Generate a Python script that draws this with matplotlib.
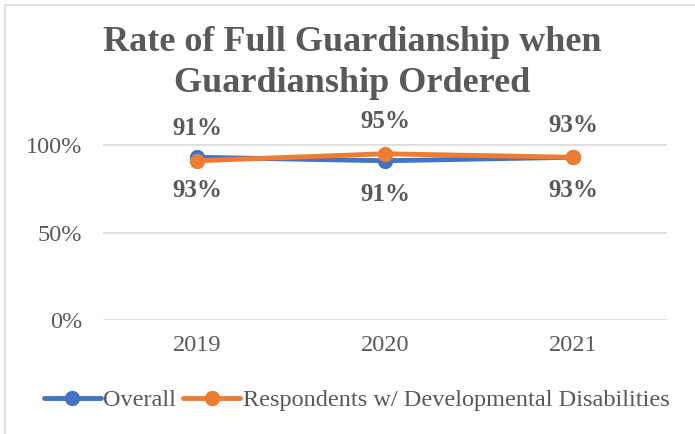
import matplotlib.pyplot as plt
from matplotlib.patches import Rectangle

# data
years = ['2019', '2020', '2021']
overall = [0.93, 0.91, 0.93]
dev_dis = [0.91, 0.95, 0.93]
y_ticks = [0, 0.5, 1.0]
y_tick_labels = ['0%', '50%', '100%']

blue = '#4472C4'
orange = '#ED7D31'
grey_txt = '#595959'

plt.rcParams['font.family'] = ['Liberation Serif', 'DejaVu Serif']

fig = plt.figure(figsize=(6.95, 4.34), dpi=100)
ax = fig.add_axes([0.148, 0.2627, 0.812, 0.4838])

# rahmen chart
fig.patches.append(Rectangle((5 / 695, -0.05), 1.1, 1 - 5 / 434 + 0.05,
                             transform=fig.transFigure, fill=False,
                             edgecolor='#D9D9D9', linewidth=1.2))

x = range(len(years))
ax.plot(x, overall, color=blue, linewidth=3.5, marker='o', markersize=10,
        label='Overall', solid_capstyle='round')
ax.plot(x, dev_dis, color=orange, linewidth=3.5, marker='o', markersize=10,
        label='Respondents w/ Developmental Disabilities', solid_capstyle='round')

# label data
for i in x:
    ax.annotate(f'{round(dev_dis[i] * 100)}%', (i, dev_dis[i]), xytext=(0, 23),
                textcoords='offset points', ha='center', va='center',
                fontsize=18, fontweight='bold', color=grey_txt)
    ax.annotate(f'{round(overall[i] * 100)}%', (i, overall[i]), xytext=(0, -24),
                textcoords='offset points', ha='center', va='center',
                fontsize=18, fontweight='bold', color=grey_txt)

ax.set_xlim(-0.5, 2.5)
ax.set_ylim(0, 1.2)
ax.set_yticks(y_ticks)
ax.set_yticklabels(y_tick_labels)
ax.set_xticks(list(x))
ax.set_xticklabels(years)
ax.tick_params(length=0, labelsize=17.5, labelcolor=grey_txt, pad=11)
ax.tick_params(axis='y', pad=15)
ax.grid(axis='y', color='#D9D9D9', linewidth=1.2)
ax.set_axisbelow(True)
for s in ax.spines.values():
    s.set_visible(False)

fig.text(0.507, 0.855, 'Rate of Full Guardianship when\nGuardianship Ordered',
         ha='center', va='center', fontsize=26, fontweight='bold',
         color=grey_txt, linespacing=1.3)

fig.legend(loc='center', bbox_to_anchor=(0.513, 0.078), ncol=2, frameon=False,
           fontsize=17.5, labelcolor=grey_txt, handlelength=2.35,
           handletextpad=0.1, columnspacing=0.3)

fig.savefig('out.png', dpi=100)
